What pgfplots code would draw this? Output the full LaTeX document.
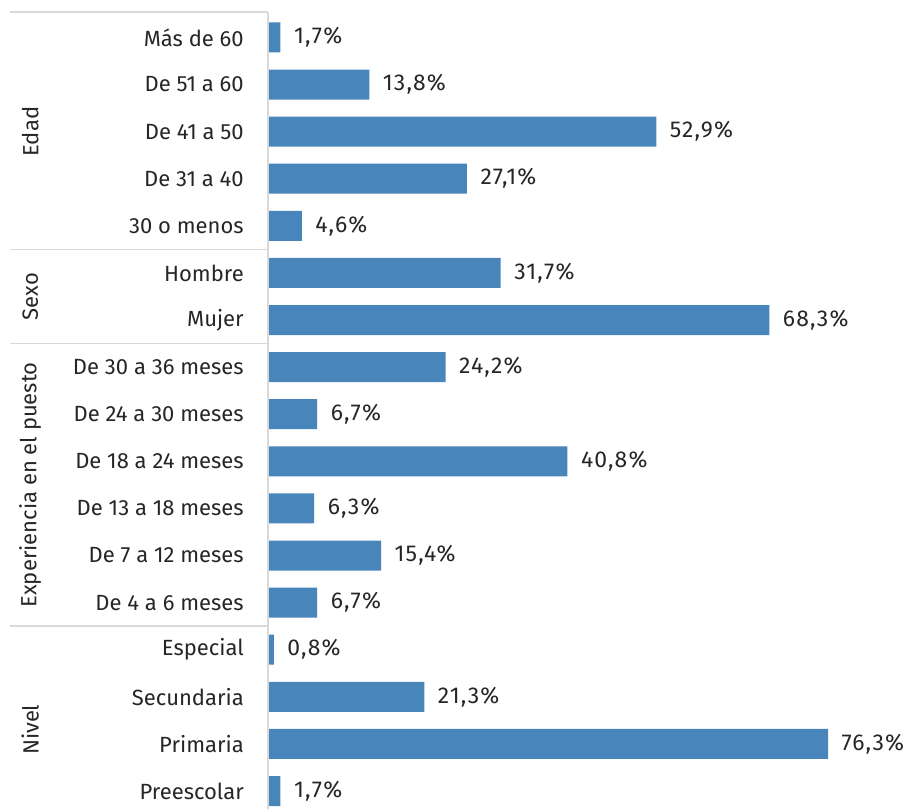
\documentclass[border=0pt]{standalone}
\usepackage{pgfplots}
\pgfplotsset{compat=1.18}
\usepackage{fontspec}
\setmainfont{Fira Sans}
\definecolor{barblue}{HTML}{4785BA}
\definecolor{sepgray}{HTML}{D9D9D9}
\definecolor{txt}{HTML}{262626}
\begin{document}
\begin{tikzpicture}
\path[use as bounding box] (-201pt,0) rectangle (480.75pt,606.75pt);
\begin{axis}[
  scale only axis,
  width=480.75pt, height=597.75pt,
  xmin=0, xmax=87.33,
  ymin=-0.382, ymax=16.54,
  clip=false,
  axis line style={draw=none},
  xtick=\empty,
  ytick={0,...,16},
  yticklabels={Preescolar,Primaria,Secundaria,Especial,De 4 a 6 meses,De 7 a 12 meses,De 13 a 18 meses,De 18 a 24 meses,De 24 a 30 meses,De 30 a 36 meses,Mujer,Hombre,30 o menos,De 31 a 40,De 41 a 50,De 51 a 60,Más de 60},
  major tick length=0pt,
  yticklabel style={font=\fontsize{16.5}{19}\selectfont, text=txt, inner sep=0pt, xshift=-18pt},
  xbar, bar width=22.5pt,
  /pgf/number format/assume math mode=true,
  nodes near coords={\pgfmathprintnumber[fixed,fixed zerofill,precision=1,use comma]{\pgfplotspointmeta}\%},
  point meta=x,
  nodes near coords style={font=\fontsize{17.2}{19}\selectfont\addfontfeature{LetterSpace=5}, text=txt, anchor=west, inner sep=0pt, xshift=10pt},
]
\addplot[fill=barblue, draw=none] coordinates {
(1.7,0) (76.3,1) (21.3,2) (0.8,3) (6.7,4) (15.4,5) (6.3,6) (40.8,7) (6.7,8) (24.2,9)
(68.3,10) (31.7,11) (4.6,12) (27.1,13) (52.9,14) (13.8,15) (1.7,16)
};
\draw[sepgray, line width=1.5pt] (axis cs:0,16.54) -- (axis cs:0,-0.382);
\draw[sepgray, line width=1.2pt] (axis cs:-35.1,16.54) -- (axis cs:0,16.54);
\draw[sepgray, line width=1.2pt] (axis cs:-35.1,11.5) -- (axis cs:0,11.5);
\draw[sepgray, line width=1.2pt] (axis cs:-35.1,9.5) -- (axis cs:0,9.5);
\draw[sepgray, line width=1.2pt] (axis cs:-35.1,3.5) -- (axis cs:0,3.5);
\node[rotate=90, font=\fontsize{16.5}{19}\selectfont, text=txt] at (axis cs:-32.4,14) {Edad};
\node[rotate=90, font=\fontsize{16.5}{19}\selectfont, text=txt] at (axis cs:-32.4,10.5) {Sexo};
\node[rotate=90, font=\fontsize{16.5}{19}\selectfont, text=txt] at (axis cs:-32.4,6.5) {Experiencia en el puesto};
\node[rotate=90, font=\fontsize{16.5}{19}\selectfont, text=txt] at (axis cs:-32.4,1.3) {Nivel};
\end{axis}
\end{tikzpicture}
\end{document}
